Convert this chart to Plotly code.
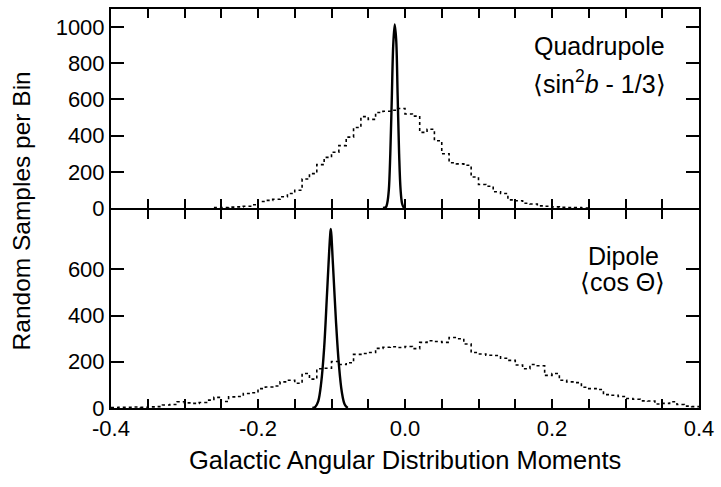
import plotly.graph_objects as go

# ---------------- data ----------------
bin_width = 0.01

# Quadrupole: random-sample histogram (dotted), left bin edges start at -0.26
quad_bin_start = -0.26
quad_counts = [2, 3, 5, 6, 10, 18, 36, 42, 48, 62, 80, 98, 160, 190, 240, 280,
               308, 345, 392, 445, 505, 490, 528, 535, 540, 550, 520, 508, 418,
               435, 372, 300, 250, 244, 236, 171, 130, 120, 90, 80, 45, 40, 26,
               22, 12, 10, 6, 4, 3, 2, 0]

# Quadrupole: observed-sample distribution (solid)
quad_peak_x = [-0.030, -0.026, -0.024, -0.022, -0.020, -0.018, -0.016, -0.014,
               -0.012, -0.010, -0.008, -0.006, -0.004, -0.002, 0.000]
quad_peak_y = [0, 5, 30, 100, 300, 600, 900, 1015, 930, 620, 300, 100, 25, 5, 0]

# Dipole: random-sample histogram (dotted), left bin edges start at -0.40
dip_bin_start = -0.40
dip_counts = [2, 3, 3, 4, 3, 5, 6, 13, 15, 27, 22, 20, 24, 34, 46, 28, 48, 50,
              63, 66, 84, 91, 95, 113, 120, 107, 149, 125, 170, 172, 201, 188,
              196, 232, 236, 240, 258, 263, 265, 262, 266, 257, 284, 291, 288,
              284, 305, 300, 277, 240, 234, 228, 227, 215, 206, 186, 170, 188,
              183, 141, 149, 120, 113, 110, 90, 84, 80, 58, 55, 50, 41, 38, 31,
              30, 17, 20, 27, 15, 8, 6]

# Dipole: observed-sample distribution (solid)
dip_peak_x = [-0.126, -0.122, -0.118, -0.114, -0.110, -0.106, -0.102, -0.101,
              -0.098, -0.094, -0.090, -0.086, -0.082, -0.078]
dip_peak_y = [0, 5, 30, 110, 260, 500, 740, 775, 620, 380, 190, 70, 15, 0]

x_tickvals = [-0.4, -0.35, -0.3, -0.25, -0.2, -0.15, -0.1, -0.05, 0.0,
              0.05, 0.1, 0.15, 0.2, 0.25, 0.3, 0.35, 0.4]
x_ticktext = ["-0.4", "", "", "", "-0.2", "", "", "", "0.0",
              "", "", "", "0.2", "", "", "", "0.4"]
top_yticks = [0, 200, 400, 600, 800, 1000]
bot_yticks = [0, 200, 400, 600]


def step_xy(start, counts):
    edges = [round(start + bin_width * i, 4) for i in range(len(counts) + 1)]
    ys = list(counts) + [counts[-1]]
    return edges, ys


FONT = "Liberation Sans, Arial, Helvetica, sans-serif"

fig = go.Figure()

qx, qy = step_xy(quad_bin_start, quad_counts)
fig.add_trace(go.Scatter(x=qx, y=qy, mode="lines", line_shape="hv",
                         line=dict(color="black", width=1.6, dash="dot"),
                         xaxis="x", yaxis="y", showlegend=False))
fig.add_trace(go.Scatter(x=quad_peak_x, y=quad_peak_y, mode="lines",
                         line_shape="spline",
                         line=dict(color="black", width=2.4),
                         xaxis="x", yaxis="y", showlegend=False))

dx, dy = step_xy(dip_bin_start, dip_counts)
fig.add_trace(go.Scatter(x=dx, y=dy, mode="lines", line_shape="hv",
                         line=dict(color="black", width=1.6, dash="dot"),
                         xaxis="x2", yaxis="y2", showlegend=False))
fig.add_trace(go.Scatter(x=dip_peak_x, y=dip_peak_y, mode="lines",
                         line_shape="spline",
                         line=dict(color="black", width=2.4),
                         xaxis="x2", yaxis="y2", showlegend=False))

PLOT_H = 401.0
split = 200 / PLOT_H
px1 = 1 / PLOT_H


def axis(**kw):
    base = dict(showline=True, linecolor="black", linewidth=2,
                mirror="ticks", ticks="inside", tickcolor="black",
                tickwidth=2, showgrid=False, zeroline=False)
    base.update(kw)
    return base


fig.update_layout(
    font=dict(family=FONT, size=22, color="black"),
    xaxis=axis(range=[-0.4, 0.4], tickvals=x_tickvals, ticktext=x_ticktext,
               ticklen=9, anchor="y", showticklabels=False),
    xaxis2=axis(range=[-0.4, 0.4], tickvals=x_tickvals, ticktext=x_ticktext,
                ticklen=9, anchor="y2"),
    yaxis=axis(range=[0, 1100], tickvals=top_yticks, ticklen=13,
               domain=[split + px1, 1.0], anchor="x",
               ticksuffix="  "),
    yaxis2=axis(range=[0, 857], tickvals=bot_yticks, ticklen=13,
                domain=[0.0, split - px1], anchor="x2",
                ticksuffix="  "),
)

ann_font = dict(family=FONT, size=25, color="black")
fig.add_annotation(xref="paper", yref="paper", x=0.945, y=(408 - 44) / PLOT_H,
                   xanchor="right", yanchor="middle", showarrow=False,
                   text="Quadrupole", font=ann_font)
fig.add_annotation(xref="paper", yref="paper", x=0.948, y=(408 - 80) / PLOT_H,
                   xanchor="right", yanchor="middle", showarrow=False,
                   text="\u27e8sin<sup>2</sup><i>b</i> - 1/3\u27e9",
                   font=ann_font)
fig.add_annotation(xref="paper", yref="paper", x=0.935, y=(408 - 255) / PLOT_H,
                   xanchor="right", yanchor="middle", showarrow=False,
                   text="Dipole", font=ann_font)
fig.add_annotation(xref="paper", yref="paper", x=0.945, y=(408 - 281) / PLOT_H,
                   xanchor="right", yanchor="middle", showarrow=False,
                   text="\u27e8cos \u0398\u27e9", font=ann_font)

# axis titles
fig.add_annotation(xref="paper", yref="paper", x=0.5, y=(408 - 460) / PLOT_H,
                   xanchor="center", yanchor="middle", showarrow=False,
                   text="Galactic Angular Distribution Moments",
                   font=dict(family=FONT, size=25.5, color="black"))
fig.add_annotation(xref="paper", yref="paper", x=(22 - 111) / 591,
                   y=(408 - 210) / PLOT_H, xanchor="center", yanchor="middle",
                   showarrow=False, textangle=-90,
                   text="Random Samples per Bin",
                   font=dict(family=FONT, size=24.5, color="black"))

fig.update_layout(width=721, height=487,
                  margin=dict(l=111, r=19, t=7, b=79),
                  paper_bgcolor="white", plot_bgcolor="white",
                  showlegend=False)

fig.write_html("out.html")
